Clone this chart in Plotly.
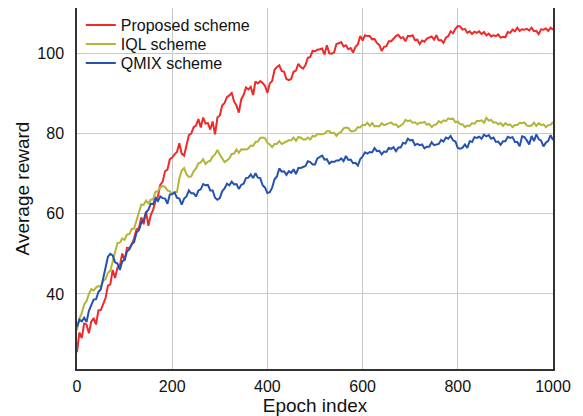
import plotly.graph_objects as go

epochs = list(range(0, 1001, 5))

reward_proposed = [
    25.5, 30.4, 29.0, 32.6, 32.4, 30.2, 33.1, 34.0, 32.4, 35.9,
    36.0, 37.6, 39.0, 42.1, 42.4, 46.0, 44.0, 46.6, 47.0, 50.1,
    48.4, 51.5, 51.4, 52.3, 53.9, 56.1, 56.4, 59.1, 57.4, 60.6,
    57.0, 59.7, 61.0, 63.2, 64.4, 67.2, 68.0, 70.6, 71.0, 73.6,
    74.0, 74.8, 75.4, 77.6, 75.0, 74.5, 77.0, 79.6, 80.0, 81.6,
    82.0, 83.6, 81.5, 84.0, 82.5, 82.6, 81.0, 83.0, 79.8, 84.0,
    84.5, 87.0, 87.6, 89.1, 89.5, 90.1, 88.0, 87.0, 85.2, 88.5,
    89.6, 91.5, 91.0, 91.6, 89.6, 93.0, 92.5, 93.1, 92.6, 91.9,
    90.2, 92.5, 93.1, 95.9, 96.6, 97.0, 95.6, 95.4, 93.6, 93.3,
    93.6, 95.4, 95.7, 97.4, 96.6, 96.2, 97.1, 98.9, 99.1, 100.6,
    100.5, 100.9, 101.0, 101.2, 99.7, 102.0, 100.0, 99.9, 100.2, 102.3,
    102.5, 102.8, 101.7, 102.0, 101.0, 101.3, 100.2, 101.6, 102.2, 104.3,
    103.2, 104.5, 104.3, 104.3, 103.5, 103.6, 102.6, 102.1, 100.6, 101.6,
    101.8, 103.0, 103.0, 103.8, 104.3, 104.6, 103.8, 104.0, 103.0, 104.3,
    104.3, 104.5, 103.3, 103.4, 102.3, 103.2, 102.9, 103.7, 103.9, 104.2,
    103.4, 104.5, 103.2, 103.3, 102.6, 103.9, 104.3, 105.5, 105.0, 106.1,
    106.8, 106.7, 105.9, 106.1, 105.1, 105.5, 104.8, 105.4, 105.1, 105.5,
    104.8, 105.3, 104.5, 104.9, 104.2, 104.5, 104.3, 104.7, 103.9, 104.1,
    104.0, 105.3, 105.1, 105.9, 105.5, 106.4, 105.6, 106.0, 105.9, 106.1,
    105.7, 106.4, 105.5, 105.6, 104.8, 106.0, 105.9, 106.2, 105.6, 106.4,
    105.9,
]

reward_iql = [
    31.0, 33.9, 35.2, 37.4, 38.2, 40.0, 41.2, 40.9, 41.6, 42.0,
    41.7, 43.3, 43.7, 45.3, 45.8, 48.2, 50.8, 52.7, 52.8, 53.8,
    53.5, 54.8, 55.0, 56.2, 56.3, 58.4, 60.8, 62.3, 62.2, 63.3,
    62.6, 63.5, 63.6, 65.5, 65.6, 66.6, 66.9, 66.7, 65.8, 65.6,
    64.8, 65.4, 65.4, 68.8, 70.8, 71.4, 69.8, 69.2, 69.3, 70.6,
    71.3, 72.6, 72.8, 73.6, 72.4, 73.0, 73.2, 74.3, 74.8, 75.9,
    74.8, 73.8, 72.9, 73.3, 73.8, 74.9, 75.0, 76.0, 75.2, 76.1,
    76.1, 76.0, 76.3, 77.0, 76.9, 77.9, 78.0, 78.9, 79.0, 78.8,
    77.7, 77.3, 76.6, 77.4, 77.4, 78.1, 77.4, 77.7, 78.1, 78.3,
    78.3, 79.0, 78.2, 79.1, 79.0, 78.5, 78.5, 79.0, 78.5, 79.4,
    79.3, 79.9, 79.8, 79.8, 80.0, 80.6, 80.6, 80.1, 80.2, 79.4,
    80.1, 80.4, 81.3, 81.5, 81.4, 80.6, 80.6, 80.8, 81.6, 81.5,
    82.2, 82.1, 82.7, 81.9, 82.6, 81.8, 81.9, 81.8, 82.6, 82.1,
    82.3, 82.6, 82.8, 82.2, 82.3, 81.6, 82.1, 82.4, 83.4, 83.1,
    83.3, 82.7, 82.8, 82.3, 82.7, 82.7, 82.9, 82.2, 82.4, 81.6,
    82.1, 82.3, 83.1, 82.7, 83.3, 83.1, 83.8, 83.6, 83.7, 82.8,
    83.0, 82.3, 82.3, 81.6, 82.0, 81.9, 82.6, 82.4, 83.1, 83.1,
    83.3, 82.7, 83.9, 83.2, 83.4, 82.7, 82.8, 82.3, 82.6, 81.9,
    82.6, 82.1, 82.3, 81.6, 82.1, 82.1, 82.7, 82.6, 82.8, 82.0,
    81.9, 82.0, 82.7, 81.9, 82.6, 82.1, 82.3, 81.6, 82.1, 82.2,
    82.9,
]

reward_qmix = [
    31.8, 33.6, 33.2, 34.1, 33.0, 35.8, 37.2, 38.6, 38.7, 40.5,
    41.2, 43.8, 46.2, 49.3, 50.0, 49.6, 47.9, 47.6, 46.0, 48.1,
    48.5, 50.6, 51.1, 52.5, 52.9, 55.3, 55.9, 57.8, 58.4, 60.3,
    61.0, 62.5, 62.4, 63.9, 63.2, 64.3, 63.9, 63.8, 62.5, 64.8,
    64.9, 65.3, 64.0, 63.8, 62.3, 63.8, 64.3, 65.8, 65.1, 65.1,
    64.3, 65.8, 66.1, 67.4, 67.1, 67.2, 65.8, 65.8, 64.0, 63.5,
    63.9, 65.6, 66.3, 67.5, 67.1, 68.0, 67.3, 67.4, 66.2, 67.2,
    67.5, 68.9, 69.0, 69.8, 68.9, 70.1, 69.0, 68.9, 67.1, 66.5,
    65.2, 65.4, 66.5, 68.6, 69.3, 71.3, 70.5, 70.6, 69.7, 70.6,
    70.2, 71.1, 69.9, 71.4, 71.4, 71.7, 71.9, 73.1, 72.9, 72.3,
    72.3, 73.8, 74.2, 74.5, 73.5, 73.6, 72.5, 73.0, 72.9, 73.3,
    73.3, 73.8, 73.1, 74.4, 73.4, 73.5, 72.6, 72.7, 72.0, 73.6,
    74.3, 75.3, 75.0, 75.4, 75.3, 76.4, 75.6, 75.7, 74.8, 75.5,
    75.4, 76.4, 76.2, 76.6, 75.6, 76.5, 76.5, 77.7, 77.5, 78.7,
    78.3, 78.4, 77.1, 77.4, 77.1, 77.3, 76.3, 76.7, 76.7, 77.8,
    77.1, 77.3, 77.4, 78.4, 78.0, 79.0, 78.7, 79.4, 78.3, 78.0,
    76.4, 76.2, 76.5, 77.3, 76.4, 78.1, 77.9, 79.1, 78.9, 79.2,
    78.7, 79.7, 79.3, 79.6, 78.7, 79.0, 77.9, 78.0, 77.2, 78.1,
    78.1, 79.2, 78.9, 79.1, 77.9, 77.9, 76.8, 79.3, 79.1, 78.3,
    77.3, 79.4, 78.1, 79.8, 78.6, 78.2, 76.8, 77.7, 78.2, 79.6,
    78.4,
]

series_names = ["Proposed scheme", "IQL scheme", "QMIX scheme"]
series_colors = ["#ee2a2a", "#b3b43a", "#2552b0"]
x_ticks = [0, 200, 400, 600, 800, 1000]
y_ticks = [40, 60, 80, 100]

# the page body has an 8px default margin, so the figure is drawn 8px in
W, H = 575, 408
ML, MR, MT, MB = 69, 30, 0, 47
PW, PH = W - ML - MR, H - MT - MB

legend_ids = ["legend", "legend2", "legend3"]
legend_rows_px = [17, 36, 55]  # row centres, px from top of figure

fig = go.Figure()
for name, vals, col, lid in zip(series_names,
                                [reward_proposed, reward_iql, reward_qmix],
                                series_colors, legend_ids):
    fig.add_trace(go.Scatter(x=epochs, y=vals, mode="lines", name=name,
                             legend=lid, line=dict(color=col, width=2)))

font_family = "Liberation Sans, Arial, sans-serif"
legend_style = dict(x=0.008, xanchor="left", yanchor="middle",
                    bgcolor="rgba(0,0,0,0)", borderwidth=0,
                    font=dict(size=16), itemwidth=30)
legends = {}
for lid, ypx in zip(legend_ids, legend_rows_px):
    legends[lid] = dict(legend_style, y=1 - (ypx - MT) / PH)

fig.update_layout(
    width=W, height=H,
    margin=dict(l=ML, r=MR, t=MT, b=MB, autoexpand=False),
    paper_bgcolor="white", plot_bgcolor="white",
    font=dict(family=font_family, size=16, color="#111"),
    showlegend=True,
    # white backing box behind the legend (hides grid lines only)
    shapes=[dict(type="rect", xref="paper", yref="paper", layer="between",
                 x0=0.002, x1=180 / PW, y0=1 - 70 / PH, y1=0.997,
                 fillcolor="white", line=dict(width=0))],
    **legends,
)
fig.update_xaxes(range=[0, 1000], tickvals=x_ticks, showgrid=True,
                 gridcolor="#c8c8c8", gridwidth=1, zeroline=False,
                 showline=True, linecolor="#333", linewidth=1.5, mirror=True,
                 ticks="", ticklabelstandoff=2, automargin=False,
                 title=dict(text="Epoch index", standoff=8))
fig.update_yaxes(range=[21.3, 111.3], tickvals=y_ticks, showgrid=True,
                 gridcolor="#c8c8c8", gridwidth=1, zeroline=False,
                 showline=True, linecolor="#333", linewidth=1.5, mirror=True,
                 ticks="", ticklabelstandoff=8, automargin=False,
                 title=dict(text="Average reward", standoff=3))

fig.write_html("out.html")
